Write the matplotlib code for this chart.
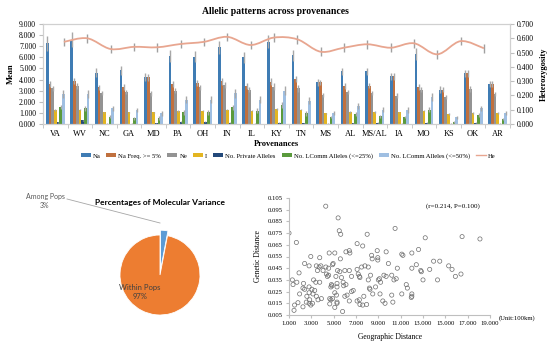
import numpy as np
import matplotlib
matplotlib.use("Agg")
import matplotlib.pyplot as plt
from matplotlib.lines import Line2D
from matplotlib.patches import Patch, PathPatch
from matplotlib.path import Path

plt.rcParams['font.family'] = ['Liberation Serif', 'DejaVu Serif']

# provenances and allelic pattern means
provenances = ['VA', 'WV', 'NC', 'GA', 'MD', 'PA', 'OH', 'IN', 'IL', 'KY',
               'TN', 'MS', 'AL', 'MS/AL', 'IA', 'MO', 'KS', 'OK', 'AR']
na = [7.25, 7.6, 4.6, 4.85, 4.2, 6.15, 6.05, 6.9, 6.0, 7.4,
      6.2, 3.75, 4.75, 4.75, 4.3, 6.3, 3.1, 4.55, 3.6]
na_freq5 = [3.6, 3.85, 3.3, 3.35, 4.2, 3.6, 3.7, 3.85, 3.4, 3.8,
            4.05, 3.75, 3.4, 3.45, 4.3, 3.35, 3.1, 4.55, 3.6]
ne = [3.2, 3.4, 2.8, 2.9, 2.75, 3.0, 3.3, 3.5, 3.1, 3.35,
      3.2, 2.6, 2.9, 2.8, 2.55, 3.1, 2.45, 3.15, 2.7]
shannon_i = [1.25, 1.3, 1.05, 1.05, 1.05, 1.15, 1.2, 1.3, 1.2, 1.35,
             1.3, 0.95, 1.1, 1.1, 1.05, 1.2, 0.9, 1.0, 1.0]
private = [0.15, 0.35, 0.02, 0.02, 0.05, 0.2, 0.2, 0.1, 0.03, 0.1,
           0.05, 0.02, 0.05, 0.1, 0.03, 0.1, 0.03, 0.1, 0.02]
lcomm25 = [1.55, 1.4, 0.65, 0.5, 0.55, 1.05, 1.05, 1.5, 1.2, 1.7,
           0.95, 0.6, 0.9, 0.7, 0.6, 1.3, 0.2, 0.8, 0.45]
lcomm50 = [2.7, 2.7, 1.4, 1.25, 0.95, 2.2, 2.2, 2.75, 2.2, 3.0,
           2.1, 1.0, 1.6, 1.3, 1.25, 2.45, 0.6, 1.4, 1.0]

# standard errors
na_se = [0.7, 0.65, 0.4, 0.4, 0.35, 0.55, 0.5, 0.6, 0.5, 0.6,
         0.5, 0.3, 0.3, 0.3, 0.3, 0.5, 0.3, 0.3, 0.25]
na_freq5_se = [0.25, 0.25, 0.25, 0.25, 0.3, 0.25, 0.3, 0.3, 0.25, 0.3,
               0.3, 0.25, 0.25, 0.25, 0.3, 0.25, 0.25, 0.3, 0.25]
ne_se = [0.25, 0.25, 0.2, 0.2, 0.25, 0.2, 0.25, 0.3, 0.25, 0.3,
         0.3, 0.2, 0.2, 0.2, 0.2, 0.25, 0.2, 0.25, 0.2]
shannon_i_se = [0.07] * 19
private_se = [0.05] * 19
lcomm25_se = [0.2, 0.2, 0.15, 0.1, 0.15, 0.2, 0.2, 0.2, 0.2, 0.25,
              0.2, 0.1, 0.15, 0.15, 0.1, 0.2, 0.08, 0.15, 0.1]
lcomm50_se = [0.4, 0.4, 0.25, 0.2, 0.2, 0.35, 0.35, 0.4, 0.3, 0.4,
              0.3, 0.2, 0.25, 0.2, 0.25, 0.35, 0.15, 0.25, 0.2]

he = [0.575, 0.60, 0.525, 0.54, 0.537, 0.56, 0.575, 0.61, 0.553, 0.605,
      0.593, 0.506, 0.534, 0.558, 0.534, 0.565, 0.488, 0.58, 0.53]
he_se = [0.03] * 19

series_names = ['Na', 'Na Freq. >= 5%', 'Ne', 'I', 'No. Private Alleles',
                'No. LComm Alleles (<=25%)', 'No. LComm Alleles (<=50%)']
series_vals = [na, na_freq5, ne, shannon_i, private, lcomm25, lcomm50]
series_se = [na_se, na_freq5_se, ne_se, shannon_i_se, private_se, lcomm25_se, lcomm50_se]
colors = ['#3f7cb4', '#c0703e', '#939393', '#e3b521', '#23497a', '#5a9a3c', '#9fbfe2']

# AMOVA
amova_labels = ['Among Pops', 'Within Pops']
amova_pct = [3, 97]

# genetic vs geographic distance
geo = [4.29, 5.4, 5.5, 5.63, 1.0, 1.66, 10.5, 8.0, 13.2, 16.5,
       18.1, 7.1, 7.6, 2.95, 3.75, 4.6, 5.1, 6.1, 6.4, 6.45,
       5.6, 2.4, 2.8, 8.9, 8.95, 8.95, 8.4, 8.45, 9.7, 9.9,
       11.1, 12.0, 12.6, 11.2, 13.95, 14.5, 15.3, 15.6, 10.7, 12.0,
       12.4, 13.6, 12.8, 12.85, 13.0, 14.3, 15.9, 16.4, 3.45, 3.7,
       3.85, 4.3, 4.55, 3.55, 4.05, 4.9, 4.95, 5.35, 5.55, 6.0,
       6.4, 7.1, 7.5, 7.8, 8.1, 4.35, 4.44, 4.55, 5.2, 5.7,
       5.85, 6.6, 7.2, 7.3, 7.35, 8.1, 8.3, 9.0, 9.1, 9.2,
       9.5, 9.7, 10.2, 10.4, 10.6, 11.5, 11.6, 1.9, 1.3, 1.36,
       1.7, 2.3, 3.2, 3.4, 3.75, 4.8, 4.85, 4.75, 5.3, 5.3,
       5.9, 6.1, 2.25, 2.4, 2.8, 3.05, 3.3, 1.95, 2.6, 2.85,
       2.8, 3.15, 3.45, 3.6, 3.9, 4.65, 4.75, 4.9, 5.1, 5.25,
       5.3, 6.0, 6.2, 6.4, 6.6, 6.75, 7.1, 7.3, 7.35, 7.7,
       7.6, 7.95, 8.2, 8.25, 8.5, 8.75, 9.15, 9.4, 9.6, 10.2,
       10.3, 11.1, 12.0, 12.0, 11.95, 1.5, 1.8, 1.45, 2.25, 2.55,
       2.8, 2.95, 3.1, 4.65, 5.1, 5.3, 5.8]
gen = [0.098, 0.088, 0.077, 0.074, 0.075, 0.067, 0.079, 0.074, 0.071, 0.072,
       0.070, 0.066, 0.064, 0.055, 0.054, 0.058, 0.058, 0.059, 0.060, 0.058,
       0.053, 0.049, 0.047, 0.060, 0.054, 0.052, 0.056, 0.053, 0.059, 0.049,
       0.057, 0.058, 0.061, 0.056, 0.051, 0.051, 0.047, 0.044, 0.045, 0.045,
       0.048, 0.044, 0.043, 0.042, 0.035, 0.035, 0.038, 0.040, 0.047, 0.046,
       0.047, 0.046, 0.045, 0.043, 0.043, 0.048, 0.049, 0.043, 0.042, 0.043,
       0.043, 0.044, 0.046, 0.047, 0.046, 0.040, 0.038, 0.039, 0.038, 0.037,
       0.033, 0.038, 0.040, 0.038, 0.037, 0.035, 0.039, 0.035, 0.036, 0.033,
       0.039, 0.038, 0.039, 0.035, 0.036, 0.031, 0.028, 0.041, 0.035, 0.031,
       0.033, 0.032, 0.035, 0.033, 0.033, 0.031, 0.030, 0.029, 0.032, 0.029,
       0.030, 0.031, 0.028, 0.027, 0.029, 0.027, 0.026, 0.023, 0.021, 0.018,
       0.024, 0.023, 0.021, 0.018, 0.019, 0.019, 0.018, 0.019, 0.024, 0.022,
       0.016, 0.021, 0.022, 0.017, 0.025, 0.026, 0.017, 0.018, 0.014, 0.021,
       0.0135, 0.014, 0.028, 0.027, 0.023, 0.029, 0.023, 0.017, 0.015, 0.022,
       0.016, 0.023, 0.023, 0.021, 0.020, 0.0135, 0.0155, 0.009, 0.012, 0.016,
       0.015, 0.0135, 0.015, 0.0145, 0.0115, 0.015, 0.008]


def smooth_path(xs, ys):
    # catmull-rom style bezier path through the points (like Excel's smoothed line)
    xs = np.asarray(xs, float)
    ys = np.asarray(ys, float)
    verts = [(xs[0], ys[0])]
    codes = [Path.MOVETO]
    n = len(xs)
    for i in range(n - 1):
        x0, y0 = (xs[i - 1], ys[i - 1]) if i > 0 else (xs[i], ys[i])
        x3, y3 = (xs[i + 2], ys[i + 2]) if i + 2 < n else (xs[i + 1], ys[i + 1])
        c1 = (xs[i] + (xs[i + 1] - x0) / 6, ys[i] + (ys[i + 1] - y0) / 6)
        c2 = (xs[i + 1] - (x3 - xs[i]) / 6, ys[i + 1] - (y3 - ys[i]) / 6)
        verts += [c1, c2, (xs[i + 1], ys[i + 1])]
        codes += [Path.CURVE4] * 3
    return Path(verts, codes)


fig = plt.figure(figsize=(5.5, 3.45), dpi=100)

# ---- bar chart ----
ax = fig.add_axes([43/550, 1 - 124/345, 467/550, 100/345])
x = np.arange(len(provenances))
w = 0.11
for k, (vals, se, c, name) in enumerate(zip(series_vals, series_se, colors, series_names)):
    pos = x + (k - 3) * w
    ax.bar(pos, vals, width=w, color=c, edgecolor='none', label=name, zorder=2)
    ax.errorbar(pos, vals, yerr=se, fmt='none', ecolor='#a8a8a8', elinewidth=1.0,
                capsize=0, zorder=3)
ax.set_xlim(-0.5, len(provenances) - 0.5)
ax.set_ylim(0, 9)
ax.set_yticks(np.arange(0, 9.1, 1))
ax.yaxis.set_major_formatter(matplotlib.ticker.FormatStrFormatter('%.3f'))
ax.set_xticks(x)
ax.set_xticklabels(provenances, fontsize=6)
ax.set_xticks(np.arange(-0.5, len(provenances)), minor=True)
ax.tick_params(axis='x', which='major', length=0, pad=4)
ax.tick_params(axis='x', which='minor', length=3, color='#bfbfbf')
ax.tick_params(axis='y', labelsize=5.5, length=3, color='#bfbfbf', pad=2)
for s in ax.spines.values():
    s.set_color('#d0d0d0')
    s.set_linewidth(0.8)
ax.set_ylabel('Mean', fontsize=6, fontweight='bold', labelpad=3)
ax.set_xlabel('Provenances', fontsize=6, fontweight='bold', labelpad=2)

ax2 = ax.twinx()
he_x = np.linspace(0.35, 17.44, len(he))
ax2.add_patch(PathPatch(smooth_path(he_x, he), facecolor='none', edgecolor='#e8a690',
                        lw=1.3, zorder=4))
ax2.errorbar(he_x, he, yerr=he_se, fmt='none', ecolor='#a0a0a0', elinewidth=1.0, capsize=0)
ax2.set_ylim(0, 0.7)
ax2.set_yticks(np.arange(0, 0.71, 0.1))
ax2.yaxis.set_major_formatter(matplotlib.ticker.FormatStrFormatter('%.3f'))
ax2.tick_params(axis='y', labelsize=5.5, length=3, color='#bfbfbf', pad=2)
for s in ax2.spines.values():
    s.set_color('#d0d0d0')
    s.set_linewidth(0.8)
ax2.set_ylabel('Heterozygosity', fontsize=6, fontweight='bold', labelpad=4)

fig.text(275/550, 1 - 11/345, 'Allelic patterns across provenances', ha='center', va='center',
         fontsize=7, fontweight='bold')

handles = [Patch(facecolor=c, edgecolor='none') for c in colors]
handles.append(Line2D([0], [0], color='#e8a690', lw=1.0))
leg = fig.legend(handles, series_names + ['He'], loc='center', bbox_to_anchor=(288/550, 1 - 156/345),
                 ncol=8, fontsize=4.8, frameon=False, handlelength=1.5, handleheight=0.45,
                 handletextpad=0.3, columnspacing=0.9)

# ---- pie chart ----
axp = fig.add_axes([(160 - 50)/550, 1 - (275 + 50)/345, 100/550, 100/345])
wedges, _ = axp.pie(amova_pct, colors=['#5b9bd5', '#ed7d31'], startangle=90, counterclock=False,
                    explode=[0.12, 0], radius=1.0,
                    wedgeprops=dict(edgecolor='white', linewidth=0.6))
axp.set_xlim(-1.25, 1.25)
axp.set_ylim(-1.25, 1.25)
axp.set_aspect('equal')
axp.axis('off')
fig.text(160/550, 1 - 202/345, 'Percentages of Molecular Variance', ha='center', va='center',
         fontsize=6, fontweight='bold', family=['Lato', 'DejaVu Sans'])
fig.text(45/550, 1 - 201/345, amova_labels[0] + '\n' + str(amova_pct[0]) + '%', ha='center',
         va='center', fontsize=5, color='#595959', family=['Lato', 'DejaVu Sans'], linespacing=1.2)
fig.add_artist(Line2D([67/550, 160/550], [1 - 199/345, 1 - 223/345], color='#a6a6a6', lw=0.6))
fig.text(140/550, 1 - 292/345, amova_labels[1] + '\n' + str(amova_pct[1]) + '%', ha='center',
         va='center', fontsize=5.5, color='#404040', family=['Lato', 'DejaVu Sans'], linespacing=1.2)

# ---- scatter ----
axs = fig.add_axes([289/550, 1 - 315/345, 201/550, 117/345])
axs.scatter(geo, gen, s=9, facecolors='none', edgecolors='#6e6e6e', linewidths=0.5)
axs.set_xlim(1, 19)
axs.set_ylim(0.005, 0.105)
axs.set_xticks(np.arange(1, 19.1, 2))
axs.set_yticks(np.arange(0.005, 0.106, 0.01))
axs.xaxis.set_major_formatter(matplotlib.ticker.FormatStrFormatter('%.3f'))
axs.yaxis.set_major_formatter(matplotlib.ticker.FormatStrFormatter('%.3f'))
axs.tick_params(labelsize=4.8, length=2.5, color='#bfbfbf', pad=2)
axs.spines['top'].set_visible(False)
axs.spines['right'].set_visible(False)
axs.spines['left'].set_color('#bfbfbf')
axs.spines['bottom'].set_color('#bfbfbf')
axs.set_xlabel('Geographic Distance', fontsize=5.5, labelpad=5)
axs.set_ylabel('Genetic Distance', fontsize=5.5, labelpad=4)
axs.text(0.95, 0.93, '(r=0.214, P=0.100)', transform=axs.transAxes, ha='right', va='center',
         fontsize=5)
fig.text(517/550, 1 - 315/345 - 0.5/345, '(Unit:100km)', ha='center', va='top', fontsize=4.8)

fig.savefig('out.png', dpi=100)
